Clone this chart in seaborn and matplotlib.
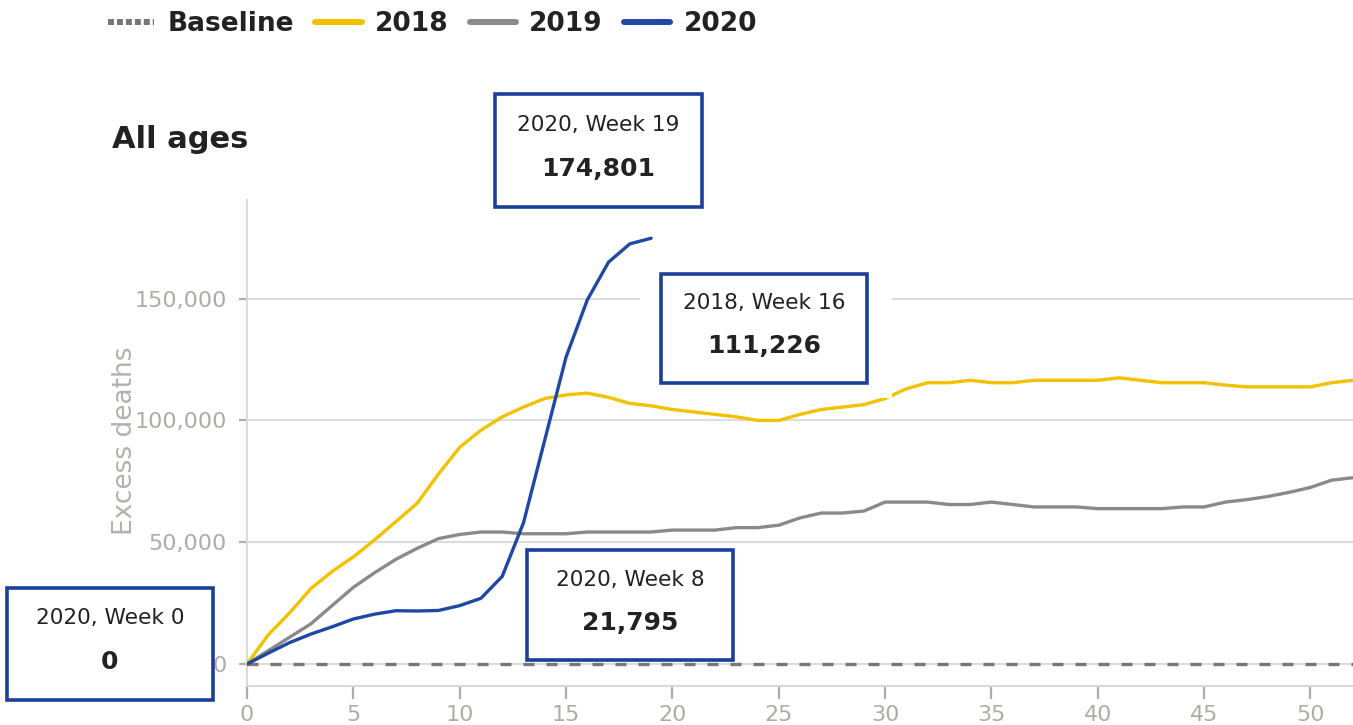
import pandas as pd
import matplotlib.pyplot as plt
import seaborn as sns
from matplotlib.lines import Line2D
from matplotlib.patches import Rectangle
from matplotlib.ticker import FuncFormatter

sns.set_style("white")
plt.rcParams['font.family'] = ['DejaVu Sans']

# --- datos ---
weeks = list(range(53))
weeks_2020 = list(range(20))

excess_2018 = [0, 12000, 21000, 31000, 38000, 44000, 51000, 58500, 66000, 78000,
               89000, 96000, 101500, 105500, 109000, 110500, 111226, 109500, 107000, 106000,
               104500, 103500, 102500, 101500, 100000, 100000, 102500, 104500, 105500, 106500,
               109000, 113000, 115500, 115500, 116500, 115500, 115500, 116500, 116500, 116500,
               116500, 117500, 116500, 115500, 115500, 115500, 114500, 113800, 113800, 113800,
               113800, 115500, 116500]
excess_2019 = [0, 5500, 11000, 16500, 24000, 31500, 37500, 43000, 47500, 51500,
               53200, 54200, 54200, 53500, 53500, 53500, 54200, 54200, 54200, 54200,
               55000, 55000, 55000, 56000, 56000, 57000, 60000, 62000, 62000, 62800,
               66500, 66500, 66500, 65500, 65500, 66500, 65500, 64500, 64500, 64500,
               63800, 63800, 63800, 63800, 64500, 64500, 66500, 67500, 68800, 70500,
               72500, 75500, 76500]
excess_2020 = [0, 4500, 8800, 12300, 15300, 18500, 20500, 21900, 21795, 22000,
               24000, 27000, 36000, 58000, 92000, 126000, 149500, 165000, 172500, 174801]

years = ["2018", "2019", "2020"]
colors = {"2018": "#f2c100", "2019": "#8a8a8a", "2020": "#1f48a6"}

# tooltips: (year, week)
callouts = [("2020", 19), ("2018", 16), ("2020", 8), ("2020", 0)]

df = pd.concat([
    pd.DataFrame({"week": weeks, "deaths": excess_2018, "year": "2018"}),
    pd.DataFrame({"week": weeks, "deaths": excess_2019, "year": "2019"}),
    pd.DataFrame({"week": weeks_2020, "deaths": excess_2020, "year": "2020"}),
])
series = {"2018": excess_2018, "2019": excess_2019, "2020": excess_2020}

W, H = 1353, 725
fig = plt.figure(figsize=(W / 100, H / 100), dpi=100)
ax = fig.add_axes([247 / W, 39 / H, 1106 / W, 486 / H])

ax.axhline(0, color="#777777", lw=2.4, ls=(0, (3.3, 3.6)), zorder=3)
sns.lineplot(data=df, x="week", y="deaths", hue="year", palette=colors,
             hue_order=years, lw=2.4, legend=False, ax=ax, zorder=4)

ax.set_xlim(0, 52)
ax.set_ylim(-9000, 190500)
ax.set_xticks(range(0, 51, 5))
ax.set_yticks([0, 50000, 100000, 150000])
ax.yaxis.set_major_formatter(FuncFormatter(lambda v, p: f"{int(v):,}"))
ax.grid(axis="y", color="#dcdcdc", lw=1.5)
ax.grid(axis="x", visible=False)
for s in ["top", "right"]:
    ax.spines[s].set_visible(False)
for s in ["left", "bottom"]:
    ax.spines[s].set_color("#dadada")
    ax.spines[s].set_linewidth(1.5)
ax.xaxis.set_ticks_position("bottom")
ax.yaxis.set_ticks_position("left")
ax.tick_params(axis="both", which="major", direction="out", colors="#b0aba6",
               labelsize=16, width=1.6)
ax.tick_params(axis="y", length=6, pad=8.5)
ax.tick_params(axis="x", length=9, pad=4.5)
ax.set_xlabel("")
ax.set_ylabel("Excess deaths", fontsize=19, color="#b5b0ab")
ax.yaxis.set_label_coords(-0.0985, 0.505)

fig.text(112 / W, 1 - 140 / H, "All ages", fontsize=22, fontweight="bold",
         color="#222222", va="center", ha="left")

handles = [Line2D([], [], color="#777777", lw=4.3, ls=(0, (1, 0.5))),
           Line2D([], [], color=colors["2018"], lw=4.3),
           Line2D([], [], color=colors["2019"], lw=4.3),
           Line2D([], [], color=colors["2020"], lw=4.3)]
leg = fig.legend(handles, ["Baseline"] + years, loc="center left",
                 bbox_to_anchor=(108 / W, 1 - 24 / H), ncol=4, frameon=False,
                 prop={"weight": "bold", "size": 19}, handlelength=1.76,
                 handletextpad=0.5, columnspacing=0.8, borderpad=0, borderaxespad=0)
for t in leg.get_texts():
    t.set_color("#222222")

# cajas de tooltip en pixeles de figura (left, top, width, height)
boxes = [(495, 94, 207, 113), (661, 274, 206, 109), (527, 550, 206, 110), (7, 588, 206, 112)]
pads = [0, 21, 0, 0]


def add_box(left, top, w, h, pad, year, week):
    value = series[year][week]
    if pad:
        fig.add_artist(Rectangle(((left - pad) / W, 1 - (top + h + pad * 0.7) / H),
                                 (w + 2 * pad + 4) / W, (h + pad * 1.7) / H,
                                 transform=fig.transFigure, facecolor="white",
                                 edgecolor="none", zorder=5))
    fig.add_artist(Rectangle((left / W, 1 - (top + h) / H), w / W, h / H,
                             transform=fig.transFigure, facecolor="white",
                             edgecolor="#1b3f98", lw=2.6, zorder=6))
    cx = (left + w / 2) / W
    fig.text(cx, 1 - (top + h * 0.27) / H, f"{year}, Week {week}", fontsize=15.6,
             color="#222222", ha="center", va="center", zorder=7)
    fig.text(cx, 1 - (top + h * 0.66) / H, f"{value:,}", fontsize=18, fontweight="bold",
             color="#222222", ha="center", va="center", zorder=7)


for (year, week), (l, t, w, h), p in zip(callouts, boxes, pads):
    add_box(l, t, w, h, p, year, week)

fig.savefig("out.png", dpi=100)
